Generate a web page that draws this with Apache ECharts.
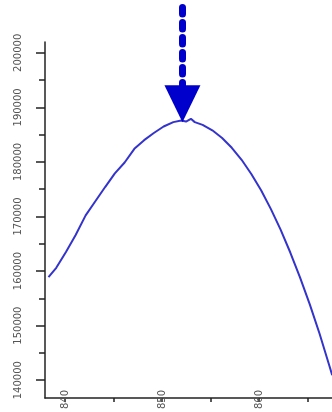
<!DOCTYPE html>
<html>
<head>
<meta charset="utf-8">
<script src="https://cdn.jsdelivr.net/npm/echarts@6/dist/echarts.min.js"></script>
<style>html,body{margin:0;padding:0;background:#fff}#c{width:332px;height:412px}</style>
</head>
<body>
<div id="c"></div>
<script>
var xValues = [838.3, 839.1, 840.1, 841.1, 842.13, 843.13, 844.14, 845.14, 846.15, 847.15, 848.16, 849.16, 850.17, 851.17, 851.98, 852.48, 852.98, 853.38, 854.19, 855.19, 856.2, 857.2, 858.21, 859.21, 860.22, 861.22, 862.23, 863.23, 864.24, 865.24, 866.25, 867.25, 867.55];
var yValues = [158900, 160600, 163500, 166600, 170200, 172800, 175400, 177900, 179900, 182400, 184000, 185300, 186500, 187300, 187600, 187400, 187900, 187300, 186800, 185800, 184400, 182600, 180400, 177800, 174800, 171400, 167600, 163400, 158800, 153900, 148500, 142700, 140900];
var yMajorTicks = [140000, 150000, 160000, 170000, 180000, 190000, 200000];
var yMinorTicks = [145000, 155000, 165000, 175000, 185000, 195000];
var xMajorTicks = [840, 850, 860];
var xMinorTicks = [845, 855, 865];
var peakX = 852.11;
var arrowTop = 208043;
var arrowHead = 190633;

var data = xValues.map(function (x, i) { return [x, yValues[i]]; });
var chart = echarts.init(document.getElementById('c'), null, {renderer: 'canvas'});
var axisCol = '#222';
var labelStyle = {color: '#555', fontSize: 10, fontFamily: 'DejaVu Sans'};
var hiddenAxis = {axisLine: {show: false}, axisTick: {show: false}, axisLabel: {show: false}, splitLine: {show: false}};
chart.setOption({
  animation: false,
  grid: [
    {left: 45, right: 0, top: 42, bottom: 10, containLabel: false},
    {left: 45, right: 0, top: 0, bottom: 10, containLabel: false}
  ],
  xAxis: [{
    type: 'value', min: 837.94, max: 867.53, gridIndex: 0,
    axisLine: {show: true, onZero: false, lineStyle: {color: axisCol, width: 1.5}},
    axisTick: {show: true, length: 4, customValues: xMajorTicks.concat(xMinorTicks), lineStyle: {color: axisCol, width: 1.5}},
    axisLabel: Object.assign({show: true, rotate: 90, margin: -8, customValues: xMajorTicks, formatter: function (v) { return String(v); }}, labelStyle),
    splitLine: {show: false}
  }, Object.assign({type: 'value', min: 837.94, max: 867.53, gridIndex: 1}, hiddenAxis)],
  yAxis: [{
    type: 'value', min: 136747, max: 201988, gridIndex: 0,
    axisLine: {show: true, onZero: false, lineStyle: {color: axisCol, width: 1.5}},
    axisTick: {show: true, length: 9, customValues: yMajorTicks, lineStyle: {color: axisCol, width: 1.5}},
    axisLabel: Object.assign({show: true, rotate: 90, margin: 22, customValues: yMajorTicks, formatter: function (v) { return String(v); }}, labelStyle),
    splitLine: {show: false}
  }, {
    type: 'value', min: 136747, max: 201988, position: 'left', gridIndex: 0,
    axisLine: {show: false},
    axisTick: {show: true, length: 6, customValues: yMinorTicks, lineStyle: {color: axisCol, width: 1.5}},
    axisLabel: {show: false},
    splitLine: {show: false}
  }, Object.assign({type: 'value', min: 136747, max: 209402, gridIndex: 1}, hiddenAxis)],
  series: [{
    type: 'line', data: data, showSymbol: false, symbol: 'none',
    xAxisIndex: 0, yAxisIndex: 0,
    lineStyle: {color: '#3434cc', width: 2}
  }, {
    type: 'line', data: [[peakX, arrowHead]], showSymbol: false, symbol: 'none', clip: false,
    xAxisIndex: 1, yAxisIndex: 2,
    lineStyle: {width: 0},
    markLine: {
      silent: true, animation: false,
      symbol: ['none', 'triangle'], symbolSize: [36, 37],
      label: {show: false},
      lineStyle: {color: '#0000cc', width: 7, type: [6.5, 8.5], cap: 'round', opacity: 1},
      itemStyle: {color: '#0000cc'},
      emphasis: {disabled: true},
      data: [[{coord: [peakX, arrowTop]}, {coord: [peakX, arrowHead]}]]
    }
  }]
});
</script>
</body>
</html>
